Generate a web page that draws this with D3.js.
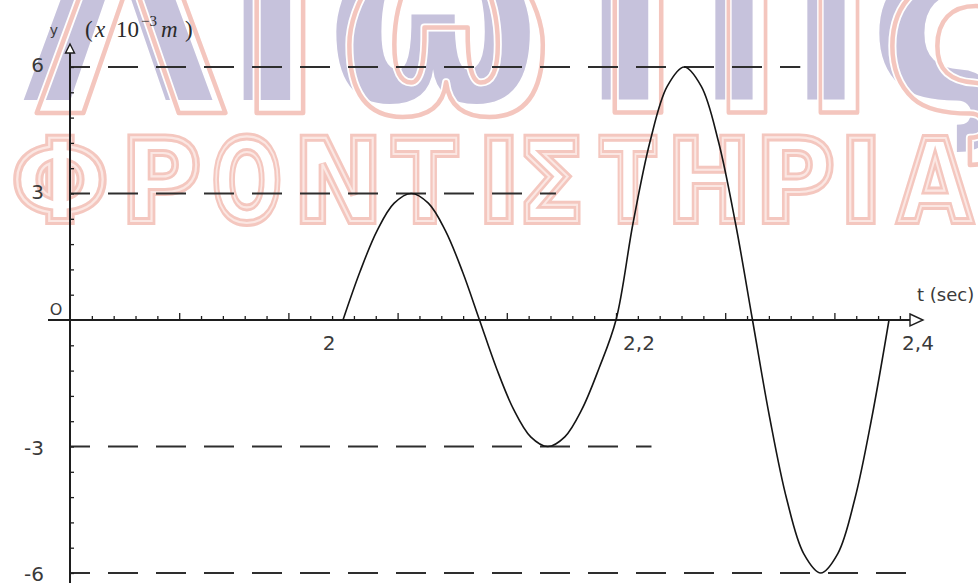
<!DOCTYPE html>
<html>
<head>
<meta charset="utf-8">
<script src="https://cdn.jsdelivr.net/npm/d3@7"></script>
<style>
  html, body { margin: 0; padding: 0; background: #fff; }
  svg { display: block; }
</style>
</head>
<body>
<svg id="chart" width="978" height="583"></svg>
<script>
// Oscillation record: displacement y (×10⁻³ m) against time t (s)
const times = [
  2.0000, 2.0125, 2.0250, 2.0375, 2.0500, 2.0625, 2.0750, 2.0875,
  2.1000, 2.1125, 2.1250, 2.1375, 2.1500, 2.1625, 2.1750, 2.1875,
  2.2000, 2.2125, 2.2250, 2.2375, 2.2500, 2.2625, 2.2750, 2.2875,
  2.3000, 2.3125, 2.3250, 2.3375, 2.3500, 2.3625, 2.3750, 2.3875,
  2.4000
];
const displacement = [
  0, 1.15, 2.12, 2.77, 3, 2.77, 2.12, 1.15,
  0, -1.15, -2.12, -2.77, -3, -2.77, -2.12, -1.15,
  0, 2.30, 4.24, 5.54, 6, 5.54, 4.24, 2.30,
  0, -2.30, -4.24, -5.54, -6, -5.54, -4.24, -2.30,
  0
];

// Labelled ticks
const xTickValues = [2, 2.2, 2.4];
const xTickLabels = ["2", "2,2", "2,4"];
const yTickValues = [6, 3, -3, -6];
const yTickLabels = ["6", "3", "-3", "-6"];

// Dashed guide levels and the time where each guide stops
const guideLevels = [6, 3, -3, -6];
const guideEnds = [2.335, 2.156, 2.226, 2.423];

const svg = d3.select("#chart");
const W = 978, H = 583;

const x = d3.scaleLinear().domain([1.8, 2.4]).range([70, 889]);
const y = d3.scaleLinear().domain([-6, 6]).range([573, 67]);
const x0 = x(1.8), yZero = y(0);

// ---------- background lettering ----------
const wm = svg.append("g").attr("class", "lettering");
const bigFont = "'DejaVu Sans', sans-serif";

const topLetters = [
  { ch: "Λ", cx: 118, sx: 1.0 },
  { ch: "Ι", cx: 267, sx: 1.0 },
  { ch: "ω", cx: 433, sx: 1.0 },
  { ch: "Τ", cx: 625, sx: 1.0 },
  { ch: "Π", cx: 780, sx: 0.8 },
  { ch: "ς", cx: 942, sx: 1.0 }
];
const topSize = 247, topBase = 100;

// lavender letters
topLetters.forEach(d => {
  wm.append("text")
    .attr("transform", `translate(${d.cx},${topBase}) scale(${d.sx},1)`)
    .attr("text-anchor", "middle")
    .attr("font-family", bigFont).attr("font-weight", "bold")
    .attr("font-size", topSize)
    .attr("fill", "#c6c2dc")
    .text(d.ch);
});
// shifted pink outline with a thin white halo
topLetters.forEach(d => {
  const g = wm.append("g")
    .attr("transform", `translate(${d.cx + 13},${topBase + 13}) scale(${d.sx},1)`);
  g.append("text")
    .attr("text-anchor", "middle")
    .attr("font-family", bigFont).attr("font-weight", "bold")
    .attr("font-size", topSize)
    .attr("fill", "none").attr("stroke", "#ffffff").attr("stroke-width", 8)
    .attr("stroke-linejoin", "round")
    .text(d.ch);
  g.append("text")
    .attr("text-anchor", "middle")
    .attr("font-family", bigFont).attr("font-weight", "bold")
    .attr("font-size", topSize)
    .attr("fill", "none").attr("stroke", "#f4c6be").attr("stroke-width", 4.5)
    .attr("stroke-linejoin", "round")
    .text(d.ch);
});

const wordLetters = [
  { ch: "Φ", cx: 60,  sx: 1.0 },
  { ch: "Ρ", cx: 161, sx: 0.95 },
  { ch: "Ο", cx: 247, sx: 0.72 },
  { ch: "Ν", cx: 338, sx: 0.93 },
  { ch: "Τ", cx: 425, sx: 0.82 },
  { ch: "Ι", cx: 499, sx: 1.0 },
  { ch: "Σ", cx: 551, sx: 0.85 },
  { ch: "Τ", cx: 628, sx: 0.7 },
  { ch: "Η", cx: 709, sx: 0.87 },
  { ch: "Ρ", cx: 795, sx: 0.94 },
  { ch: "Ι", cx: 861, sx: 1.0 },
  { ch: "Α", cx: 935, sx: 0.83 }
];
const wordSize = 114, wordBase = 221;
[["#f4c7bf", 8], ["#fbe7e3", 2.2]].forEach(([col, sw]) => {
  wordLetters.forEach(d => {
    wm.append("text")
      .attr("transform", `translate(${d.cx},${wordBase}) scale(${d.sx},1)`)
      .attr("text-anchor", "middle")
      .attr("font-family", bigFont).attr("font-weight", "bold")
      .attr("font-size", wordSize)
      .attr("fill", "none").attr("stroke", col).attr("stroke-width", sw)
      .attr("stroke-linejoin", "miter")
      .text(d.ch);
  });
});

// ---------- dashed guide lines ----------
svg.append("g").attr("class", "guides")
  .selectAll("line")
  .data(guideLevels)
  .join("line")
  .attr("x1", x0)
  .attr("x2", (d, i) => x(guideEnds[i]))
  .attr("y1", d => y(d))
  .attr("y2", d => y(d))
  .attr("stroke", "#2e2e2e")
  .attr("stroke-width", 2)
  .attr("stroke-dasharray", "30 18")
  .attr("stroke-dashoffset", 10);

// ---------- axes ----------
const axisColor = "#1e1e1e";

// minor ticks along the time axis (every fifth one a little longer)
const xMinor = d3.range(1, 39).map(k => 1.8 + 0.016 * k);
const xAxis = d3.axisBottom(x)
  .tickValues(xMinor)
  .tickSizeInner(-4)
  .tickSizeOuter(0)
  .tickFormat("");
const gx = svg.append("g")
  .attr("transform", `translate(0,${yZero})`)
  .call(xAxis);
gx.select(".domain").remove();
gx.selectAll(".tick line")
  .attr("stroke", axisColor)
  .attr("stroke-width", 1.3)
  .attr("y2", (d, i) => ((i + 1) % 5 === 0 ? -7 : -4));

const yMinor = d3.range(-10, 11).filter(k => k !== 0).map(k => k * 0.6);
const yAxis = d3.axisRight(y)
  .tickValues(yMinor)
  .tickSizeInner(4)
  .tickSizeOuter(0)
  .tickFormat("");
const gy = svg.append("g")
  .attr("transform", `translate(${x0},0)`)
  .call(yAxis);
gy.select(".domain").remove();
gy.selectAll(".tick line")
  .attr("stroke", axisColor)
  .attr("stroke-width", 1.3);

// axis lines
svg.append("line")
  .attr("x1", 48).attr("x2", 910)
  .attr("y1", yZero).attr("y2", yZero)
  .attr("stroke", axisColor).attr("stroke-width", 2);
svg.append("line")
  .attr("x1", x0).attr("x2", x0)
  .attr("y1", 53).attr("y2", H)
  .attr("stroke", axisColor).attr("stroke-width", 2);

// open arrow heads
svg.append("path")
  .attr("d", `M910,${yZero - 6} L923,${yZero} L910,${yZero + 6} Z`)
  .attr("fill", "#fff").attr("stroke", axisColor).attr("stroke-width", 1.4);
svg.append("path")
  .attr("d", `M${x0 - 4.5},53 L${x0},44 L${x0 + 4.5},53 Z`)
  .attr("fill", "#fff").attr("stroke", axisColor).attr("stroke-width", 1.4);

// ---------- curve ----------
const line = d3.line()
  .x((d, i) => x(times[i]))
  .y(d => y(d))
  .curve(d3.curveCatmullRom.alpha(0.5));
svg.append("path")
  .datum(displacement)
  .attr("d", line)
  .attr("fill", "none")
  .attr("stroke", "#151515")
  .attr("stroke-width", 1.6)
  .attr("stroke-linejoin", "round");

// ---------- labels ----------
const labelFont = "'DejaVu Sans', sans-serif";
const labelColor = "#3a3a3a";

const xLabelShift = [-14, 23, 29];
svg.append("g").selectAll("text")
  .data(xTickValues)
  .join("text")
  .attr("x", (d, i) => x(d) + xLabelShift[i])
  .attr("y", 350)
  .attr("text-anchor", "middle")
  .attr("font-family", labelFont)
  .attr("font-size", 20)
  .attr("fill", labelColor)
  .text((d, i) => xTickLabels[i]);

svg.append("g").selectAll("text")
  .data(yTickValues)
  .join("text")
  .attr("x", 44)
  .attr("y", d => y(d) + (d < 0 ? 8 : 5))
  .attr("text-anchor", "end")
  .attr("font-family", labelFont)
  .attr("font-size", 20)
  .attr("fill", labelColor)
  .text((d, i) => yTickLabels[i]);

svg.append("text")
  .attr("x", 56).attr("y", 315)
  .attr("text-anchor", "middle")
  .attr("font-family", labelFont)
  .attr("font-size", 16)
  .attr("fill", labelColor)
  .text("O");

svg.append("text")
  .attr("x", 917).attr("y", 301)
  .attr("font-family", labelFont)
  .attr("font-size", 18)
  .attr("fill", labelColor)
  .text("t (sec)");

svg.append("text")
  .attr("x", 54).attr("y", 35)
  .attr("text-anchor", "middle")
  .attr("font-family", labelFont)
  .attr("font-size", 14)
  .attr("fill", labelColor)
  .text("y");

const unit = svg.append("text")
  .attr("y", 37)
  .attr("font-family", "'Liberation Serif', 'DejaVu Serif', serif")
  .attr("font-size", 23)
  .attr("fill", "#2a2a2a");
unit.append("tspan").attr("x", 85).text("(");
unit.append("tspan").attr("x", 95).attr("font-style", "italic").text("x");
unit.append("tspan").attr("x", 116).text("10");
unit.append("tspan").attr("x", 141).attr("dy", -11).attr("font-size", 15).text("−3");
unit.append("tspan").attr("x", 161).attr("dy", 11).attr("font-style", "italic").text("m");
unit.append("tspan").attr("x", 185).text(")");
</script>
</body>
</html>
